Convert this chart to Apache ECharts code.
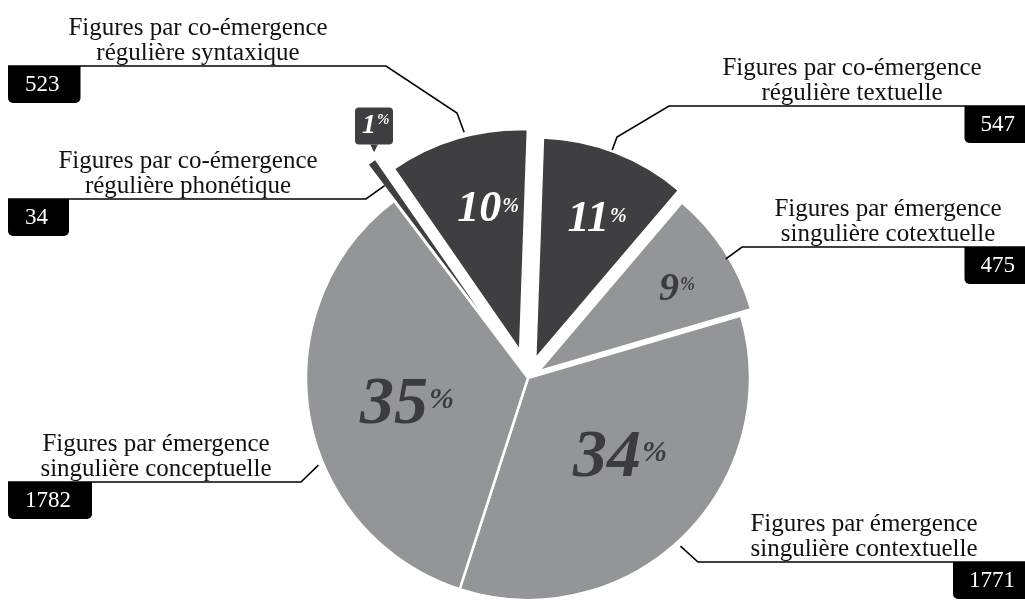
<!DOCTYPE html>
<html>
<head>
<meta charset="utf-8">
<script src="https://cdn.jsdelivr.net/npm/echarts@6/dist/echarts.min.js"></script>
<style>
html,body{margin:0;padding:0;background:#fff;}
#chart{width:1025px;height:603px;}
</style>
</head>
<body>
<div id="chart"></div>
<script>
// ---------------- DATA ----------------
const categories = [
  'Figures par co-émergence\nrégulière textuelle',
  'Figures par émergence\nsingulière cotextuelle',
  'Figures par émergence\nsingulière contextuelle',
  'Figures par émergence\nsingulière conceptuelle',
  'Figures par co-émergence\nrégulière phonétique',
  'Figures par co-émergence\nrégulière syntaxique'
];
const values = [547, 475, 1771, 1782, 34, 523];

// ---------------- LAYOUT / STYLE ----------------
const CX = 528, CY = 378, R = 222, START_ANGLE = 88;
const DARK = '#3f3f42', LIGHT = '#949598', PCT_DARK = '#3c3c3f';
const FONT = "'Liberation Serif', 'Times New Roman', serif";
const BOX_LEFT = 8, BOX_RIGHT = 1032;
const explode = [20, 12, 0, 0, 45, 28];
const borderW = [2.5, 2.5, 2.5, 2.5, 1.6, 2.5];
const pctStyle = [
  {num: 44, pct: 20, pad: 9,  pos: [597, 220]},
  {num: 40, pct: 18, pad: 6,  pos: [677, 290]},
  {num: 68, pct: 30, pad: 14, pos: [620, 458]},
  {num: 68, pct: 30, pad: 14, pos: [407, 405]},
  {num: 28, pct: 15, box: true, pos: [374, 130]},
  {num: 44, pct: 20, pad: 9,  pos: [488, 210]}
];
const callout = [
  {side: 'right', lineY: 106, textX: 852, knees: [[617, 137], [669, 106]], tweak: -1, r: 223},
  {side: 'right', lineY: 247, textX: 888, knees: [[742, 247]], tweak: 2, r: 219},
  {side: 'right', lineY: 562, textX: 864, knees: [[698, 562]], tweak: 2, r: 227},
  {side: 'left',  lineY: 482, textX: 156, knees: [[301, 482]], tweak: -13, r: 227},
  {side: 'left',  lineY: 199, textX: 188, knees: [[366, 199]], tweak: -1, r: 195},
  {side: 'left',  lineY: 66,  textX: 198, knees: [[457, 113], [386, 66]], tweak: 2, r: 226}
];

// ---------------- HELPERS ----------------
const total = values.reduce((a, b) => a + b, 0);
const rad = d => d * Math.PI / 180;
function midDeg(i) {
  let acc = 0;
  for (let k = 0; k < i; k++) acc += values[k];
  return (90 - START_ANGLE) + (acc + values[i] / 2) / total * 360;
}
function sliceCenter(i) {
  const m = rad(midDeg(i));
  return [CX + explode[i] * Math.sin(m), CY - explode[i] * Math.cos(m)];
}
const isDark = n => n.indexOf('co-émergence') >= 0;

function pctLabel(i) {
  const s = pctStyle[i];
  const col = isDark(categories[i]) ? '#fff' : PCT_DARK;
  const base = {fontFamily: FONT, fontStyle: 'italic', fontWeight: 'bold'};
  if (s.box) {
    return {
      show: true, position: 'inside', overflow: 'none',
      formatter: '{num|{d}}{pct|%}\n{ptr|▼}',
      rich: {
        num: Object.assign({}, base, {fontSize: s.num, color: '#fff', backgroundColor: DARK,
          width: 15, align: 'left',
          padding: [4, 0, 5, 7], borderRadius: [4, 0, 0, 4], lineHeight: 37}),
        pct: Object.assign({}, base, {fontSize: s.pct, color: '#fff', backgroundColor: DARK,
          width: 11, align: 'left',
          padding: [5, 5, 17, 0], borderRadius: [0, 4, 4, 0], lineHeight: 37}),
        ptr: {fontFamily: 'DejaVu Sans', fontSize: 10, lineHeight: 8, color: DARK}
      }
    };
  }
  return {
    show: true, position: 'inside', overflow: 'none',
    formatter: '{num|{d}}{pct|%}',
    rich: {
      num: Object.assign({}, base, {fontSize: s.num, lineHeight: s.num, color: col}),
      pct: Object.assign({}, base, {fontSize: s.pct, color: col, verticalAlign: 'top', padding: [s.pad, 0, 0, 1]})
    }
  };
}

function calloutLabel(k) {
  const c = callout[k];
  const left = c.side === 'left';
  const W = left ? 2 * (c.textX - BOX_LEFT) : 2 * (BOX_RIGHT - c.textX);
  return {
    show: true, position: 'outside', overflow: 'none',
    formatter: p => {
      const parts = p.name.split('\n');
      return '{t|' + parts[0] + '}\n{t|' + parts[1] + '}\n{v|' + p.value + '}';
    },
    rich: {
      t: {fontFamily: FONT, fontSize: 25, lineHeight: 25, color: '#111', width: W, align: 'center'},
      v: {fontFamily: FONT, fontSize: 23, lineHeight: 37, color: '#fff', backgroundColor: '#000',
          padding: left ? [7, 21, 7, 17] : [7, 17, 7, 16],
          borderRadius: left ? [0, 0, 5, 5] : [0, 0, 0, 5], align: c.side}
    }
  };
}

// ---------------- SERIES ----------------
const sliceSeries = values.map((v, i) => ({
  type: 'pie',
  center: sliceCenter(i),
  radius: [0, R],
  startAngle: START_ANGLE,
  clockwise: true,
  avoidLabelOverlap: false,
  percentPrecision: 0,
  silent: true,
  emphasis: {disabled: true},
  z: 2,
  data: values.map((vv, k) => ({
    value: vv,
    name: categories[k],
    itemStyle: k === i
      ? {color: isDark(categories[k]) ? DARK : LIGHT, borderColor: '#fff', borderWidth: borderW[k]}
      : {color: 'rgba(0,0,0,0)', borderWidth: 0},
    label: k === i ? pctLabel(k) : {show: false},
    labelLine: {show: false}
  })),
  labelLayout: p => p.dataIndex === i ? {x: pctStyle[i].pos[0], y: pctStyle[i].pos[1]} : {}
}));

const calloutSeries = {
  type: 'pie',
  center: [CX, CY],
  radius: [0, 4],
  startAngle: START_ANGLE,
  clockwise: true,
  avoidLabelOverlap: false,
  silent: true,
  emphasis: {disabled: true},
  z: 5,
  itemStyle: {color: 'rgba(0,0,0,0)', borderWidth: 0},
  labelLine: {show: true, length: 5, length2: 5, smooth: false, lineStyle: {color: '#000', width: 1.6}},
  data: values.map((v, k) => ({value: v, name: categories[k], label: calloutLabel(k)})),
  labelLayout: p => {
    const k = p.dataIndex, c = callout[k];
    const m = rad(midDeg(k)), a = rad(midDeg(k) + c.tweak);
    const start = [CX + explode[k] * Math.sin(m) + c.r * Math.sin(a),
                   CY - explode[k] * Math.cos(m) - c.r * Math.cos(a)];
    const left = c.side === 'left';
    return {
      x: left ? BOX_LEFT : BOX_RIGHT,
      y: c.lineY - 50,
      align: c.side,
      verticalAlign: 'top',
      labelLinePoints: [start].concat(c.knees, [[left ? BOX_LEFT : BOX_RIGHT, c.lineY]])
    };
  }
};

const chart = echarts.init(document.getElementById('chart'), null, {renderer: 'canvas'});
chart.setOption({
  animation: false,
  backgroundColor: '#fff',
  series: sliceSeries.concat([calloutSeries])
});
</script>
</body>
</html>
